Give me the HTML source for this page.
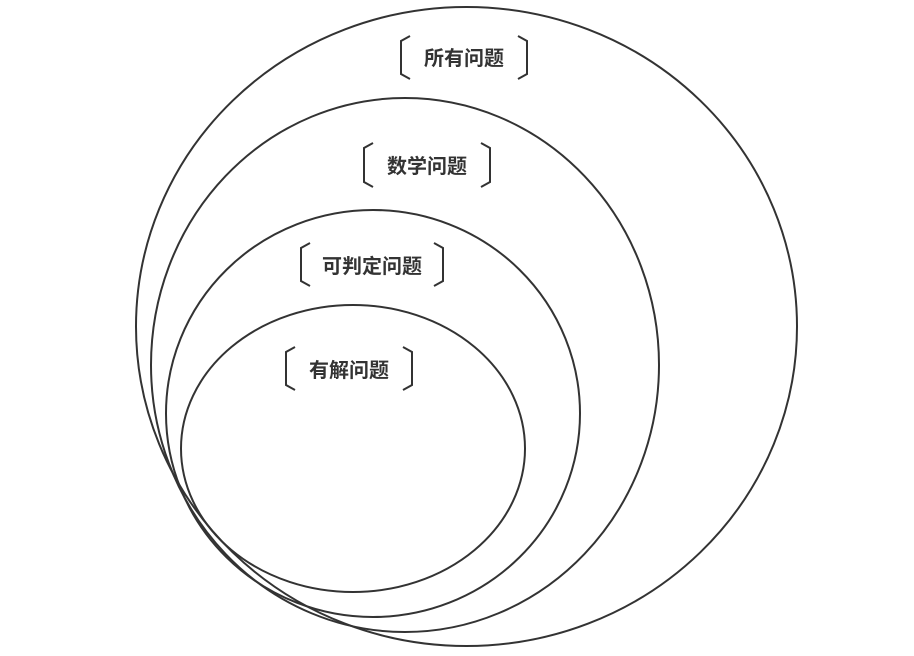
<!DOCTYPE html>
<html><head><meta charset="utf-8"><style>
html,body{margin:0;padding:0;background:#fff;}
svg text{font-family:"Liberation Sans","Noto Sans CJK SC",sans-serif;font-weight:bold;font-size:20px;fill:#333;}
</style></head><body>
<svg width="914" height="651" viewBox="0 0 914 651" xmlns="http://www.w3.org/2000/svg">
<g fill="none" stroke="#333" stroke-width="2">
<ellipse cx="466.5" cy="326.5" rx="330.5" ry="319.5"/>
<ellipse cx="405" cy="365" rx="254" ry="267"/>
<ellipse cx="373" cy="413.5" rx="207" ry="203.5"/>
<ellipse cx="353" cy="448.5" rx="172" ry="143.5"/>
<path d="M410,36 L401,41 L401,74 L410,79 M518,36 L527,41 L527,74 L518,79"/>
<path d="M373,143 L364,148 L364,182 L373,187 M481,143 L490,148 L490,182 L481,187"/>
<path d="M310,243 L301,248 L301,281 L310,286 M434,243 L443,248 L443,281 L434,286"/>
<path d="M295,347 L286,352 L286,385 L295,390 M403,347 L412,352 L412,385 L403,390"/>
</g>
<text x="464" y="65" text-anchor="middle">所有问题</text>
<text x="427" y="173" text-anchor="middle">数学问题</text>
<text x="372" y="273" text-anchor="middle">可判定问题</text>
<text x="349" y="377" text-anchor="middle">有解问题</text>
</svg>
</body></html>
